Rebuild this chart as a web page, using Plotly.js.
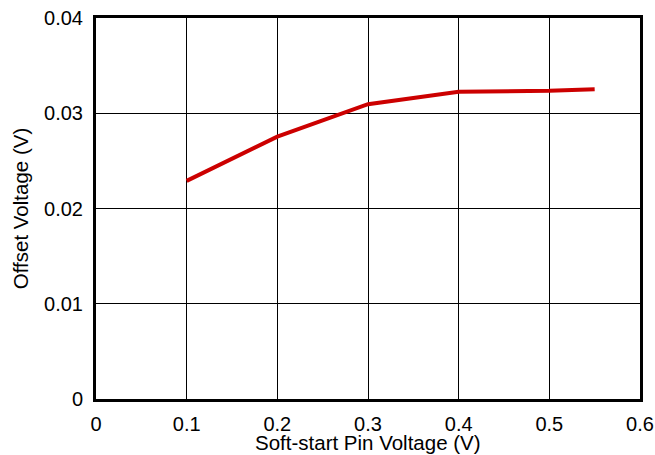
<!DOCTYPE html>
<html>
<head>
<meta charset="utf-8">
<script src="https://cdn.plot.ly/plotly-3.0.1.min.js"></script>
<style>html,body{margin:0;padding:0;background:#fff;}#chart{width:655px;height:455px;}</style>
</head>
<body>
<div id="chart"></div>
<script>
const softStartVoltage = [0.1, 0.2, 0.3, 0.4, 0.5, 0.55];
const offsetVoltage = [0.0229, 0.02755, 0.03095, 0.03225, 0.03235, 0.03253];
const xTicks = [0, 0.1, 0.2, 0.3, 0.4, 0.5, 0.6];
const xTickLabels = ['0', '0.1', '0.2', '0.3', '0.4', '0.5', '0.6'];
const yTicks = [0, 0.01, 0.02, 0.03, 0.04];
const yTickLabels = ['0', '0.01', '0.02', '0.03', '0.04'];
const xTitle = 'Soft-start Pin Voltage (V)';
const yTitle = 'Offset Voltage (V)';

const tickFont = {family: 'Liberation Sans, Arial, sans-serif', size: 20, color: '#000'};
const titleFont = {family: 'Liberation Sans, Arial, sans-serif', size: 20.5, color: '#000'};

Plotly.newPlot('chart', [{
  x: softStartVoltage,
  y: offsetVoltage,
  type: 'scatter',
  mode: 'lines',
  line: {color: '#cc0000', width: 4},
  hoverinfo: 'skip'
}], {
  width: 655, height: 455,
  margin: {l: 96, r: 15, t: 18, b: 56, pad: 0},
  paper_bgcolor: '#fff', plot_bgcolor: '#fff',
  showlegend: false,
  font: tickFont,
  xaxis: {
    range: [0, 0.6], tickvals: xTicks, ticktext: xTickLabels,
    showgrid: true, gridcolor: '#000', gridwidth: 1,
    zeroline: false, showline: true, linecolor: '#000', linewidth: 3, mirror: true,
    ticks: '', ticklabelstandoff: 5, tickfont: tickFont,
    automargin: false
  },
  yaxis: {
    range: [0, 0.04], tickvals: yTicks, ticktext: yTickLabels,
    showgrid: true, gridcolor: '#000', gridwidth: 1,
    zeroline: false, showline: true, linecolor: '#000', linewidth: 3, mirror: true,
    ticks: '', ticklabelstandoff: 6, tickfont: tickFont,
    title: {text: yTitle, font: titleFont, standoff: 10},
    automargin: false
  },
  annotations: [{
    text: xTitle, font: titleFont, showarrow: false,
    xref: 'paper', yref: 'paper', x: 0.5, y: 0,
    xanchor: 'center', yanchor: 'bottom', yshift: -57
  }]
}, {displayModeBar: false, staticPlot: true});
</script>
</body>
</html>
